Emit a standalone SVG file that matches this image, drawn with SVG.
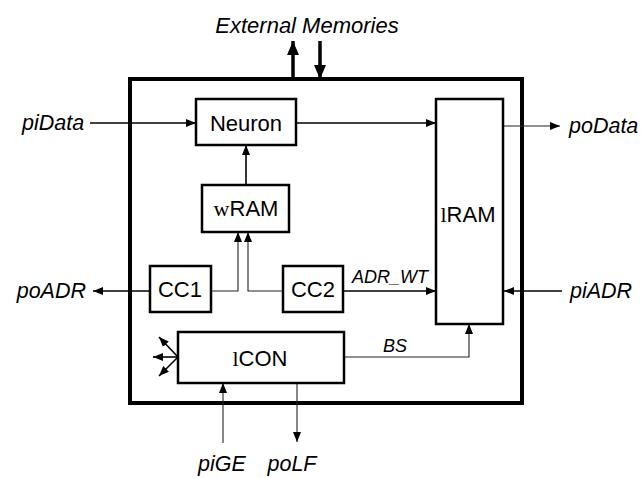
<svg xmlns="http://www.w3.org/2000/svg" width="644" height="478" viewBox="0 0 644 478">
<style>
.box{fill:#fff;stroke:#000;stroke-width:2.5}
.lbl{font-family:"Liberation Sans",Arial,sans-serif;font-size:22px;fill:#000;text-anchor:middle}
.io{font-family:"Liberation Sans",Arial,sans-serif;font-size:21.5px;font-style:italic;fill:#000}
.sig{font-family:"Liberation Sans",Arial,sans-serif;font-size:18px;font-style:italic;fill:#000}
.ser{font-family:"Liberation Serif","Times New Roman",serif}
.c{fill:none;stroke:#000;stroke-width:1.6}
.t{fill:none;stroke:#222;stroke-width:1.1}
.ext{fill:none;stroke:#000;stroke-width:3.5}
</style>
<defs>
<marker id="a" viewBox="0 0 10 8" refX="10" refY="4" markerWidth="10" markerHeight="8" markerUnits="userSpaceOnUse" orient="auto"><path d="M0,0 L10,4 L0,8 Z" fill="#000"/></marker>
<marker id="big" viewBox="0 0 14 12" refX="14" refY="6" markerWidth="14" markerHeight="12" markerUnits="userSpaceOnUse" orient="auto"><path d="M0,0 L14,6 L0,12 Z" fill="#000"/></marker>
</defs>
<rect x="130" y="79" width="392" height="324" fill="none" stroke="#000" stroke-width="4"/>
<text class="io" x="307" y="33" text-anchor="middle" style="font-size:22px">External Memories</text>
<g id="connectors">
<line class="ext" x1="293" y1="79" x2="293" y2="41" marker-end="url(#big)"/>
<line class="ext" x1="320" y1="41" x2="320" y2="79" marker-end="url(#big)"/>
<line class="c" x1="90" y1="123" x2="196" y2="123" marker-end="url(#a)"/>
<line class="c" x1="296" y1="123" x2="436" y2="123" marker-end="url(#a)"/>
<line class="t" x1="503" y1="126" x2="560" y2="126" marker-end="url(#a)"/>
<line class="c" x1="562" y1="291" x2="504" y2="291" marker-end="url(#a)"/>
<line class="c" x1="343" y1="291" x2="436" y2="291" marker-end="url(#a)"/>
<line class="c" x1="150" y1="291" x2="93" y2="291" marker-end="url(#a)"/>
<polyline class="t" points="211,291 238,291 238,232" marker-end="url(#a)"/>
<polyline class="t" points="283,291 248,291 248,232" marker-end="url(#a)"/>
<line class="c" x1="246" y1="185" x2="246" y2="145" marker-end="url(#a)"/>
<polyline class="t" points="344,357 469,357 469,324" marker-end="url(#a)"/>
<line class="c" x1="178" y1="357" x2="153" y2="357" marker-end="url(#a)"/>
<line class="c" x1="178" y1="357" x2="159" y2="337" marker-end="url(#a)"/>
<line class="c" x1="178" y1="357" x2="159" y2="376" marker-end="url(#a)"/>
<line class="t" x1="223" y1="443" x2="223" y2="383" marker-end="url(#a)"/>
<line class="t" x1="297" y1="383" x2="297" y2="442" marker-end="url(#a)"/>
<text class="sig" x="390" y="283" text-anchor="middle">ADR_WT</text>
<text class="sig" x="395" y="352" text-anchor="middle">BS</text>
</g>
<g id="neuron"><rect class="box" x="196" y="99" width="100" height="46"/><text class="lbl" x="246" y="131">Neuron</text></g>
<g id="wram"><rect class="box" x="202" y="185" width="87" height="47"/><text class="lbl" x="246" y="216"><tspan class="ser">w</tspan>RAM</text></g>
<g id="lram"><rect class="box" x="436" y="99" width="67" height="225"/><text class="lbl" x="468" y="222"><tspan class="ser">l</tspan>RAM</text></g>
<g id="cc1"><rect class="box" x="150" y="266" width="61" height="46"/><text class="lbl" x="180" y="297">CC1</text></g>
<g id="cc2"><rect class="box" x="283" y="266" width="60" height="46"/><text class="lbl" x="313" y="297">CC2</text></g>
<g id="lcon"><rect class="box" x="178" y="332" width="166" height="51"/><text class="lbl" x="260" y="366"><tspan class="ser">l</tspan>CON</text></g>
<g id="ports">
<text class="io" x="22" y="130">piData</text>
<text class="io" x="569" y="133">poData</text>
<text class="io" x="86" y="298" text-anchor="end">poADR</text>
<text class="io" x="570" y="298">piADR</text>
<text class="io" x="222" y="471" text-anchor="middle">piGE</text>
<text class="io" x="292" y="471" text-anchor="middle">poLF</text>
</g>
</svg>
